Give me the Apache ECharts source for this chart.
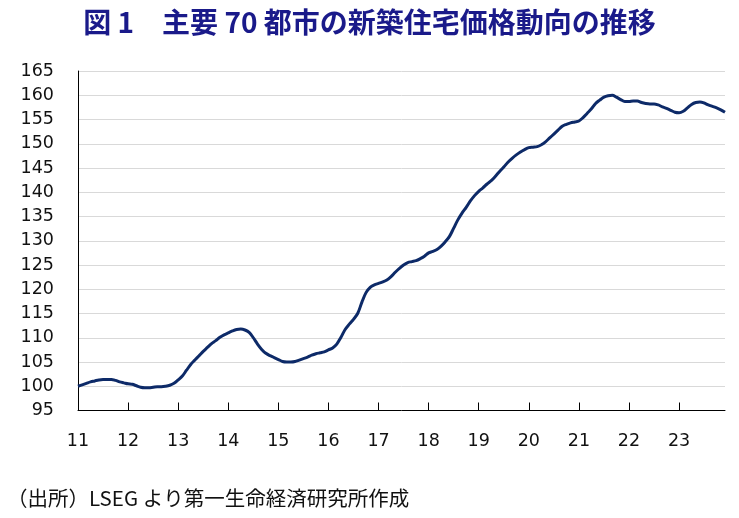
<!DOCTYPE html>
<html>
<head>
<meta charset="utf-8">
<script src="https://cdn.jsdelivr.net/npm/echarts@6/dist/echarts.min.js"></script>
<style>
html,body{margin:0;padding:0;background:#fff;}
#chart{width:739px;height:518px;}
</style>
</head>
<body>
<div id="chart"></div>
<script>
// Tick labels (year, 2-digit) for January of each year
const yearLabels = ['11','12','13','14','15','16','17','18','19','20','21','22','23'];
const months = ['01','02','03','04','05','06','07','08','09','10','11','12'];

// Monthly index values, Jan 2011 - Dec 2023
const v2011 = [100.0,100.3,100.6,100.9,101.1,101.3,101.4,101.4,101.4,101.2,100.9,100.7];
const v2012 = [100.5,100.4,100.1,99.8,99.7,99.7,99.8,99.9,99.9,100.0,100.2,100.6];
const v2013 = [101.3,102.1,103.3,104.5,105.4,106.3,107.2,108.0,108.8,109.4,110.1,110.6];
const v2014 = [111.0,111.4,111.7,111.8,111.6,111.1,110.0,108.7,107.6,106.8,106.3,105.9];
const v2015 = [105.5,105.1,105.0,105.0,105.1,105.4,105.7,106.0,106.4,106.7,106.9,107.1];
const v2016 = [107.5,107.9,108.7,110.1,111.7,112.8,113.8,115.0,117.3,119.3,120.4,120.9];
const v2017 = [121.2,121.5,121.9,122.6,123.5,124.3,125.0,125.5,125.7,125.9,126.3,126.8];
const v2018 = [127.5,127.8,128.2,128.9,129.8,130.9,132.6,134.3,135.7,136.9,138.2,139.3];
const v2019 = [140.2,140.9,141.7,142.4,143.3,144.3,145.2,146.2,147.0,147.7,148.3,148.8];
const v2020 = [149.2,149.3,149.4,149.8,150.4,151.2,152.0,152.8,153.6,154.0,154.3,154.5];
const v2021 = [154.7,155.4,156.3,157.2,158.3,159.0,159.6,159.9,160.0,159.6,159.1,158.7];
const v2022 = [158.7,158.8,158.8,158.5,158.3,158.2,158.2,158.0,157.6,157.3,156.9,156.5];
const v2023 = [156.4,156.7,157.4,158.1,158.5,158.6,158.4,158.0,157.7,157.4,157.0,156.5];

const titleText = '図 1\u3000主要 70 都市の新築住宅価格動向の推移';
const sourceText = '（出所）LSEG より第一生命経済研究所作成';

const values = [].concat(v2011,v2012,v2013,v2014,v2015,v2016,v2017,v2018,v2019,v2020,v2021,v2022,v2023);
const categories = [];
yearLabels.forEach(y => months.forEach(m => categories.push('20' + y + '-' + m)));

const chart = echarts.init(document.getElementById('chart'), null, {renderer:'canvas'});
chart.setOption({
  backgroundColor:'#ffffff',
  animation:false,
  title:[{
    text:titleText,
    left:'center',
    top:3,
    textStyle:{fontFamily:'Noto Sans CJK JP',fontSize:28,fontWeight:'bold',color:'#1a1a8a'}
  },{
    text:sourceText,
    left:2,
    top:483,
    textStyle:{fontFamily:'Noto Sans CJK JP',fontSize:20.5,fontWeight:'normal',color:'#111111'}
  }],
  grid:{left:78,right:14,top:71,bottom:107.5,containLabel:false},
  xAxis:{
    type:'category',
    data:categories,
    boundaryGap:false,
    axisLine:{show:true,lineStyle:{color:'#000',width:1}},
    axisTick:{show:true,inside:true,length:8,interval:(i)=>i%12===0,lineStyle:{color:'#000'}},
    axisLabel:{
      interval:(i)=>i%12===0,
      formatter:(val,i)=>yearLabels[Math.floor(i/12)],
      margin:22,
      fontFamily:'DejaVu Sans',
      fontSize:17.5,
      color:'#111'
    },
    splitLine:{show:false}
  },
  yAxis:{
    type:'value',
    min:95,max:165,interval:5,
    axisLine:{show:true,lineStyle:{color:'#000',width:1}},
    axisTick:{show:false},
    axisLabel:{margin:24,fontFamily:'DejaVu Sans',fontSize:17.5,color:'#111'},
    splitLine:{show:true,lineStyle:{color:'#d9d9d9',width:1}}
  },
  series:[{
    type:'line',
    data:values,
    smooth:0.35,
    symbol:'none',
    lineStyle:{color:'#0d2a68',width:3},
    z:3
  }]
});
</script>
</body>
</html>
